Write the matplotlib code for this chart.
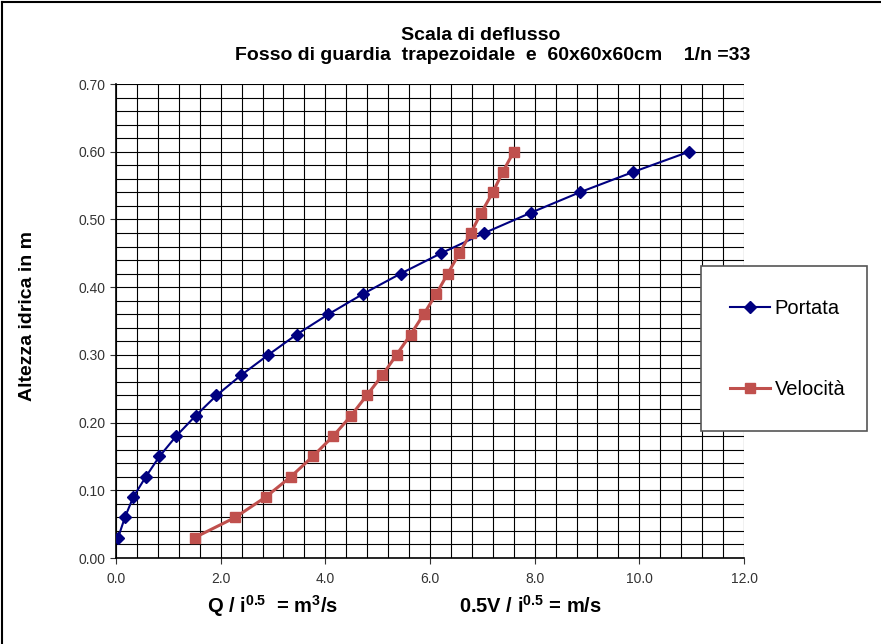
import numpy as np
import matplotlib.pyplot as plt
from matplotlib.patches import Rectangle
from matplotlib.lines import Line2D

plt.rcParams['font.family'] = ['Liberation Sans', 'DejaVu Sans']
plt.rcParams['mathtext.fontset'] = 'custom'
plt.rcParams['mathtext.rm'] = 'Liberation Sans:bold'
plt.rcParams['mathtext.bf'] = 'Liberation Sans:bold'

# water depth (m)
altezza = [0.03, 0.06, 0.09, 0.12, 0.15, 0.18, 0.21, 0.24, 0.27, 0.30,
           0.33, 0.36, 0.39, 0.42, 0.45, 0.48, 0.51, 0.54, 0.57, 0.60]
# Q / i^0.5
portata = [0.04, 0.17, 0.33, 0.57, 0.83, 1.15, 1.52, 1.92, 2.39, 2.91,
           3.45, 4.06, 4.72, 5.44, 6.21, 7.04, 7.93, 8.86, 9.88, 10.95]
# 0.5V / i^0.5
velocita = [1.50, 2.28, 2.86, 3.34, 3.76, 4.15, 4.49, 4.79, 5.09, 5.36,
            5.63, 5.88, 6.12, 6.34, 6.56, 6.78, 6.98, 7.20, 7.39, 7.60]

W, H = 881, 644
fig = plt.figure(figsize=(W / 100, H / 100), dpi=100)
ax = fig.add_axes([116 / W, 1 - 558 / H, (744 - 116) / W, (558 - 84) / H])

blue = '#000080'
red = '#C0504D'

ax.plot(portata, altezza, color=blue, lw=1.5, marker='D', ms=6,
        label='Portata', zorder=3)
ax.plot(velocita, altezza, color=red, lw=2.2, marker='s', ms=7,
        label='Velocità', zorder=3)

ax.set_xlim(0, 12)
ax.set_ylim(0, 0.70)
ax.set_xticks(np.arange(0, 12.1, 2))
ax.set_xticklabels(['%.1f' % v for v in np.arange(0, 12.1, 2)])
ax.set_yticks(np.arange(0, 0.701, 0.1))
ax.set_yticklabels(['%.2f' % v for v in np.arange(0, 0.701, 0.1)])
ax.set_xticks(np.arange(0, 12.01, 0.4), minor=True)
ax.set_yticks(np.arange(0, 0.7001, 0.02), minor=True)
ax.tick_params(which='minor', length=0)
ax.tick_params(which='major', length=4, direction='out', labelsize=10,
               colors='#333333', labelcolor='#333333')
ax.tick_params(axis='x', pad=6)
ax.grid(True, which='both', color='black', lw=0.8)
ax.set_axisbelow(True)
for s in ['top', 'right']:
    ax.spines[s].set_visible(False)
for s in ['left', 'bottom']:
    ax.spines[s].set_color('black')
    ax.spines[s].set_linewidth(1.2)

# Titles and axis labels
fig.text(481 / W, 1 - 35 / H, 'Scala di deflusso', ha='center', va='center',
         fontsize=14, fontweight='bold')
fig.text(493 / W, 1 - 55 / H,
         'Fosso di guardia  trapezoidale  e  60x60x60cm    1/n =33',
         ha='center', va='center', fontsize=14, fontweight='bold')
fig.text(28 / W, 1 - 316 / H, 'Altezza idrica in m', rotation=90,
         ha='center', va='center', fontsize=14, fontweight='bold')
fig.text(273 / W, 1 - 606 / H, r'Q / i$^{\mathbf{0.5}}$  = m$^{\mathbf{3}}$/s',
         ha='center', va='center', fontsize=14.5, fontweight='bold')
fig.text(530 / W, 1 - 606 / H, r'0.5V / i$^{\mathbf{0.5}}$ = m/s',
         ha='center', va='center', fontsize=14.5, fontweight='bold')

# Legend box
fig.patches.append(Rectangle((701 / W, 1 - 431 / H), 166 / W, 165 / H,
                             transform=fig.transFigure, facecolor='white',
                             edgecolor='#555555', lw=1.2, zorder=5))
handles = [Line2D([], [], color=blue, lw=1.5, marker='D', ms=6),
           Line2D([], [], color=red, lw=2.2, marker='s', ms=7)]
leg = fig.legend(handles, ['Portata', 'Velocità'], loc='center left',
                 bbox_to_anchor=(712 / W, 1 - 349 / H), frameon=False,
                 fontsize=14.5, labelspacing=3.05, handlelength=2.0,
                 handletextpad=0.2)
leg.set_zorder(6)

# figure border (top and left)
fig.add_artist(Line2D([2 / W, 2 / W], [0, 1 - 2 / H], color='black', lw=1.5,
                      transform=fig.transFigure))
fig.add_artist(Line2D([2 / W, 1], [1 - 2 / H, 1 - 2 / H], color='black',
                      lw=1.5, transform=fig.transFigure))

fig.savefig('out.png', dpi=100)
